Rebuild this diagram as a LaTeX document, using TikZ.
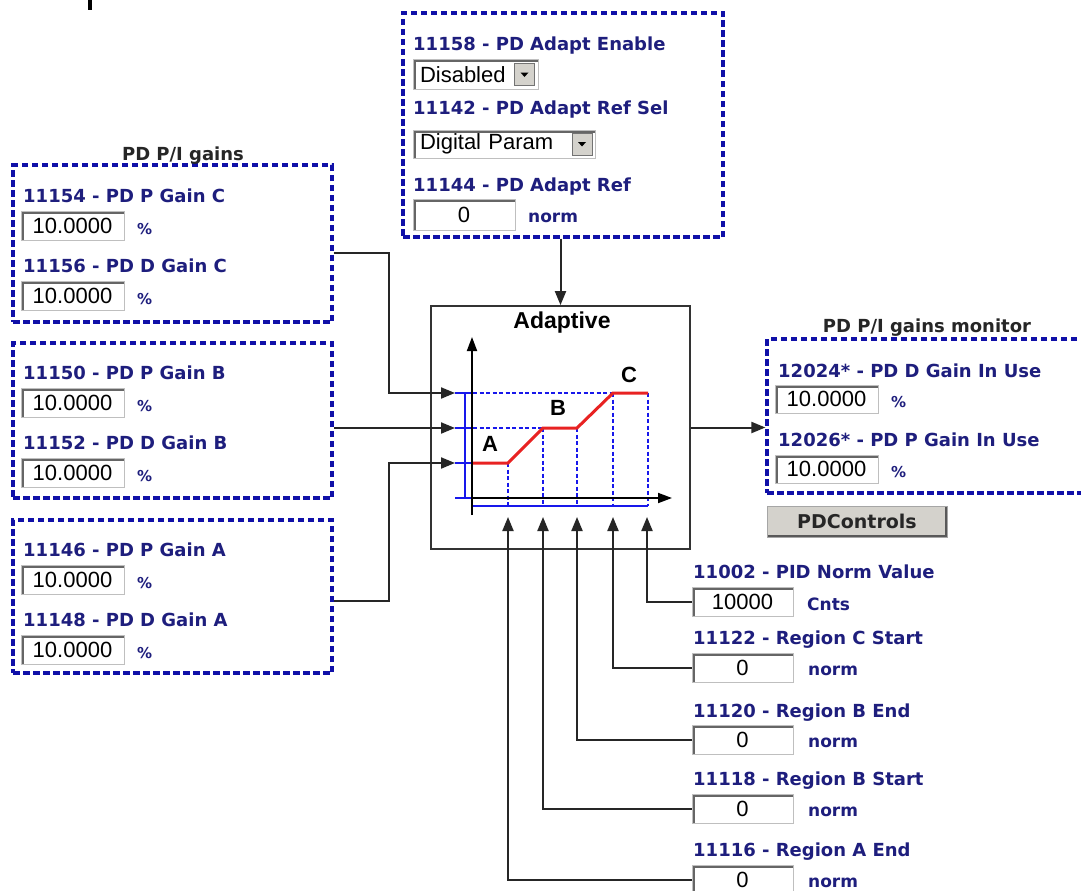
\documentclass[tikz,border=0pt]{standalone}
\usepackage{fontspec}
\setmainfont{Liberation Sans}
\newfontfamily\verdfont{DejaVu Sans}
\usetikzlibrary{arrows.meta,positioning}
\definecolor{grpblue}{RGB}{16,16,168}
\definecolor{lblnavy}{RGB}{30,30,125}
\definecolor{curvered}{RGB}{232,34,34}
\definecolor{plotblue}{RGB}{24,24,235}
\definecolor{btngray}{RGB}{212,210,204}

\begin{document}
\begin{tikzpicture}[x=1pt, y=-1pt,
    >={Triangle[length=14pt,width=11pt]},
    grp/.style={draw=grpblue, line width=3.2pt, dash pattern=on 6.5pt off 3.5pt, inner sep=0pt},
    lbl/.style={anchor=base west, inner sep=0pt, text=lblnavy,
                font=\verdfont\bfseries\fontsize{18}{20}\selectfont},
    ttl/.style={anchor=base, inner sep=0pt, text=black!85,
                font=\verdfont\bfseries\fontsize{18}{20}\selectfont},
    unit/.style={anchor=west, inner sep=0pt, text=lblnavy,
                 font=\verdfont\bfseries\fontsize{17}{20}\selectfont},
    pct/.style={anchor=west, inner sep=0pt, text=lblnavy,
                font=\verdfont\bfseries\fontsize{15}{16}\selectfont},
    field/.style={draw=black!25, line width=1pt, fill=white, minimum width=103pt, minimum height=29pt,
                  inner sep=0pt, font=\fontsize{22}{24}\selectfont,
                  path picture={\draw[black!60, line width=5pt]
                    (path picture bounding box.south west) -- (path picture bounding box.north west)
                    -- (path picture bounding box.north east);}},
    dd/.style={field, inner xsep=7pt, align=left},
    ddbtn/.style={draw=black!55, fill=btngray, minimum width=20pt, minimum height=22pt,
                  inner sep=0pt,
                  path picture={\fill[black]
                    ([shift={(-4,-2)}]path picture bounding box.center) --
                    ([shift={(4,-2)}]path picture bounding box.center) --
                    ([shift={(0,2.5)}]path picture bounding box.center) -- cycle;}},
    btn/.style={draw=black!35, fill=btngray, minimum width=180pt, minimum height=31pt,
                inner sep=0pt, text=black!85,
                font=\verdfont\bfseries\fontsize{19}{20}\selectfont,
                path picture={\draw[black!65, line width=5pt]
                  (path picture bounding box.south west) -- (path picture bounding box.south east)
                  -- (path picture bounding box.north east);}},
    arr/.style={->, line width=2pt, draw=black!85},
    redline/.style={curvered, line width=3pt},
    bline/.style={plotblue, line width=2.8pt},
    bdash/.style={plotblue, line width=2.6pt, dash pattern=on 4pt off 2.5pt},
    axis/.style={-{Triangle[length=14pt,width=10pt]}, line width=1.8pt, black},
    letter/.style={inner sep=0pt, font=\bfseries\fontsize{22}{24}\selectfont},
  ]

  \useasboundingbox (0,0) rectangle (1081,891);
  \clip (0,0) rectangle (1081,891);
  \fill[white] (0,0) rectangle (1081,891);
  \fill[black] (88,0) rectangle (92,10);

  % gain groups on the left
  \node[grp, minimum width=319pt, minimum height=157pt] (grpC) at (172.5,243.5) {};
  \node[ttl] (ttlC) at (183,160) {PD P/I gains};
  \node[lbl] (lblPC) at (23,202) {11154 - PD P Gain C};
  \node[field] (fldPC) at (72.5,226) {10.0000};
  \node[pct] (pctPC) at (137,229) {\%};
  \node[lbl] (lblDC) at (23,272) {11156 - PD D Gain C};
  \node[field] (fldDC) at (72.5,296) {10.0000};
  \node[pct] (pctDC) at (137,299) {\%};

  \node[grp, minimum width=319pt, minimum height=155pt] (grpB) at (172.5,420.5) {};
  \node[lbl] (lblPB) at (23,379) {11150 - PD P Gain B};
  \node[field] (fldPB) at (72.5,403) {10.0000};
  \node[pct] (pctPB) at (137,406) {\%};
  \node[lbl] (lblDB) at (23,449) {11152 - PD D Gain B};
  \node[field] (fldDB) at (72.5,473) {10.0000};
  \node[pct] (pctDB) at (137,476) {\%};

  \node[grp, minimum width=319pt, minimum height=153pt] (grpA) at (172.5,596.5) {};
  \node[lbl] (lblPA) at (23,556) {11146 - PD P Gain A};
  \node[field] (fldPA) at (72.5,580) {10.0000};
  \node[pct] (pctPA) at (137,583) {\%};
  \node[lbl] (lblDA) at (23,626) {11148 - PD D Gain A};
  \node[field] (fldDA) at (72.5,650) {10.0000};
  \node[pct] (pctDA) at (137,653) {\%};

  % adapt reference group on top
  \node[grp, minimum width=320pt, minimum height=224pt] (grpTop) at (563,125) {};
  \node[lbl] (lblEn) at (413,51) {11158 - PD Adapt Enable};
  \node[dd, minimum width=125pt, text width=111pt] (ddEn) at (475.5,74.5) {Disabled};
  \node[ddbtn] (btnEn) at (524.5,74.5) {};
  \node[lbl] (lblSel) at (413,114) {11142 - PD Adapt Ref Sel};
  \node[dd, minimum width=182pt, minimum height=28pt, text width=168pt] (ddSel) at (504,144) {Digital Param};
  \node[ddbtn] (btnSel) at (582,144) {};
  \node[lbl] (lblRef) at (413,191) {11144 - PD Adapt Ref};
  \node[field, minimum width=102pt, minimum height=31pt] (fldRef) at (464,214.5) {0};
  \node[unit] (unRef) at (528,218) {norm};

  % adaptive block
  \node[draw=black!80, line width=1.8pt, minimum width=259pt, minimum height=243pt,
        inner sep=0pt] (adapt) at (560.5,427.5) {};
  \node[inner sep=0pt, font=\bfseries\fontsize{23}{26}\selectfont] (adaptTtl) at (562,323) {Adaptive};

  \draw[bline] (465,393) -- (465,498);
  \draw[bline] (455,498) -- (472,498);
  \draw[bline] (455,393) -- (473,393);
  \draw[bline] (455,428) -- (473,428);
  \draw[bline] (455,463) -- (473,463);
  \draw[bline] (473,506) -- (648,506);
  \draw[bdash] (473,393) -- (613,393);
  \draw[bdash] (473,428) -- (543,428);
  \draw[bdash] (508,463) -- (508,506);
  \draw[bdash] (543,428) -- (543,506);
  \draw[bdash] (577,428) -- (577,506);
  \draw[bdash] (613,393) -- (613,506);
  \draw[bdash] (648,393) -- (648,506);
  \draw[axis] (472,515) -- (472,337);
  \draw[axis] (472,498) -- (672,498);
  \draw[redline] (473,463) -- (508,463) -- (543,428) -- (577,428) -- (613,393) -- (648,393);
  \node[letter] (ltrA) at (490,444) {A};
  \node[letter] (ltrB) at (558,408) {B};
  \node[letter] (ltrC) at (629,375) {C};

  \coordinate (inC) at (455,393);
  \coordinate (inB) at (455,428);
  \coordinate (inA) at (455,463);
  \coordinate (tipNorm) at (647,517);
  \coordinate (tipCS) at (613,517);
  \coordinate (tipBE) at (577,517);
  \coordinate (tipBS) at (543,517);
  \coordinate (tipAE) at (508,517);

  % monitor group
  \node[grp, minimum width=333pt, minimum height=154pt] (grpMon) at (933.5,416) {};
  \node[ttl] (ttlMon) at (927,332) {PD P/I gains monitor};
  \node[lbl] (lblDU) at (778,377) {12024* - PD D Gain In Use};
  \node[field, minimum height=28pt] (fldDU) at (826.5,399) {10.0000};
  \node[pct] (pctDU) at (891,402) {\%};
  \node[lbl] (lblPU) at (778,446) {12026* - PD P Gain In Use};
  \node[field, minimum height=28pt] (fldPU) at (826.5,469) {10.0000};
  \node[pct] (pctPU) at (891,472) {\%};
  \node[btn] (btnPD) at (857,521.5) {PDControls};

  % region parameters
  \node[lbl] (lblNorm) at (693,578) {11002 - PID Norm Value};
  \node[field, minimum width=101pt] (fldNorm) at (742.5,601.5) {10000};
  \node[unit] (unNorm) at (807,604) {Cnts};
  \node[lbl] (lblCS) at (693,644) {11122 - Region C Start};
  \node[field, minimum width=101pt] (fldCS) at (742.5,668) {0};
  \node[unit] (unCS) at (808,671) {norm};
  \node[lbl] (lblBE) at (693,717) {11120 - Region B End};
  \node[field, minimum width=101pt] (fldBE) at (742.5,740) {0};
  \node[unit] (unBE) at (808,743) {norm};
  \node[lbl] (lblBS) at (693,785) {11118 - Region B Start};
  \node[field, minimum width=101pt] (fldBS) at (742.5,809) {0};
  \node[unit] (unBS) at (808,812) {norm};
  \node[lbl] (lblAE) at (693,856) {11116 - Region A End};
  \node[field, minimum width=101pt] (fldAE) at (742.5,880) {0};
  \node[unit] (unAE) at (808,883) {norm};

  % connectors
  \draw[arr] ([yshift=-9.5pt]grpC.east) -- ++(55,0) |- (inC);
  \draw[arr] (grpB.east |- inB) -- (inB);
  \draw[arr] ([yshift=-4.5pt]grpA.east) -- ++(55,0) |- (inA);
  \draw[arr] (adapt.north |- grpTop.south) -- (adapt.north);
  \draw[arr] (adapt.east) -- (adapt.east -| grpMon.west);
  \draw[arr] (fldNorm.west) -| (tipNorm);
  \draw[arr] (fldCS.west) -| (tipCS);
  \draw[arr] (fldBE.west) -| (tipBE);
  \draw[arr] (fldBS.west) -| (tipBS);
  \draw[arr] (fldAE.west) -| (tipAE);

\end{tikzpicture}
\end{document}
